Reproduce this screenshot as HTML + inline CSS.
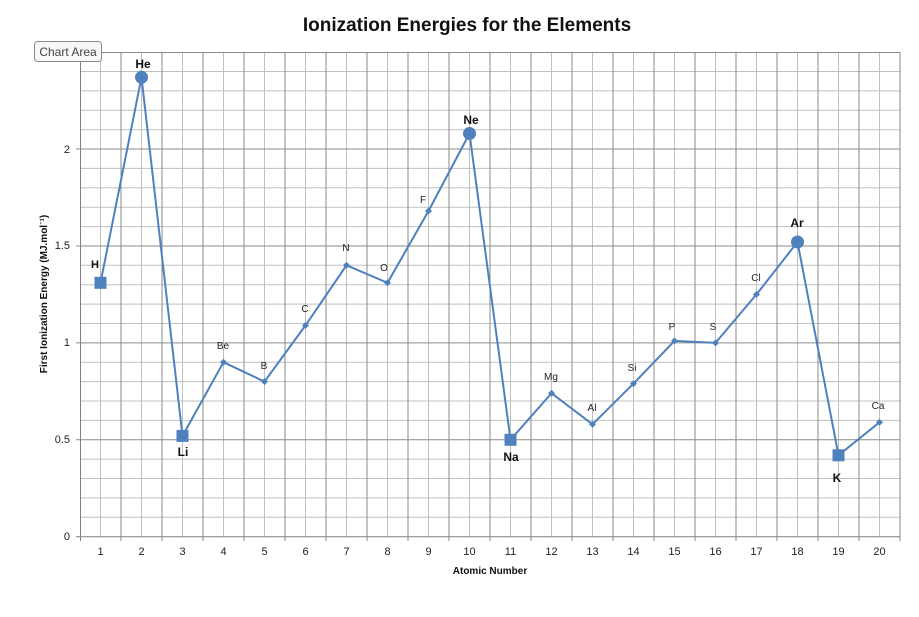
<!DOCTYPE html>
<html><head><meta charset="utf-8"><style>body{margin:0;background:#fff}svg{display:block;font-family:"Liberation Sans",Calibri,sans-serif}</style></head><body>
<svg width="919" height="617" viewBox="0 0 919 617" xmlns="http://www.w3.org/2000/svg">
<rect width="919" height="617" fill="#fff"/>
<text x="467" y="31" font-size="19" font-weight="bold" text-anchor="middle" fill="#111">Ionization Energies for the Elements</text>
<g stroke="#c0c0c0" stroke-width="1">
<path d="M100.5 52V537M141.5 52V537M182.5 52V537M223.5 52V537M264.5 52V537M305.5 52V537M346.5 52V537M387.5 52V537M428.5 52V537M469.5 52V537M510.5 52V537M551.5 52V537M592.5 52V537M633.5 52V537M674.5 52V537M715.5 52V537M756.5 52V537M797.5 52V537M838.5 52V537M879.5 52V537"/>
<path d="M80 517.3H900M80 497.9H900M80 478.5H900M80 459.1H900M80 420.4H900M80 401H900M80 381.6H900M80 362.2H900M80 323.5H900M80 304.1H900M80 284.7H900M80 265.3H900M80 226.6H900M80 207.2H900M80 187.8H900M80 168.4H900M80 129.7H900M80 110.3H900M80 90.9H900M80 71.5H900"/>
</g>
<g stroke="#8a8a8a" stroke-width="1">
<path d="M121 52V541M162 52V541M203 52V541M244 52V541M285 52V541M326 52V541M367 52V541M408 52V541M449 52V541M490 52V541M531 52V541M572 52V541M613 52V541M654 52V541M695 52V541M736 52V541M777 52V541M818 52V541M859 52V541M900 52V541"/>
<path d="M76 439.8H900M76 342.9H900M76 246H900M76 149H900M80 52.5H900"/>
</g>
<path d="M80.5 52V541M76 536.7H900" stroke="#808080" stroke-width="1"/>
<g font-size="11" fill="#222" text-anchor="end">
<text x="70" y="540">0</text><text x="70" y="443">0.5</text><text x="70" y="346">1</text><text x="70" y="249">1.5</text><text x="70" y="153">2</text>
</g>
<g font-size="11" fill="#222" text-anchor="middle">
<text x="100.5" y="555">1</text><text x="141.5" y="555">2</text><text x="182.5" y="555">3</text><text x="223.5" y="555">4</text><text x="264.5" y="555">5</text><text x="305.5" y="555">6</text><text x="346.5" y="555">7</text><text x="387.5" y="555">8</text><text x="428.5" y="555">9</text><text x="469.5" y="555">10</text><text x="510.5" y="555">11</text><text x="551.5" y="555">12</text><text x="592.5" y="555">13</text><text x="633.5" y="555">14</text><text x="674.5" y="555">15</text><text x="715.5" y="555">16</text><text x="756.5" y="555">17</text><text x="797.5" y="555">18</text><text x="838.5" y="555">19</text><text x="879.5" y="555">20</text>
</g>
<text x="490" y="574" font-size="10" font-weight="bold" text-anchor="middle" fill="#111">Atomic Number</text>
<text transform="translate(47,294) rotate(-90)" font-size="10" font-weight="bold" text-anchor="middle" fill="#111">First Ionization Energy (MJ.mol⁻¹)</text>
<polyline fill="none" stroke="#4f81bd" stroke-width="2" points="100.5,282.8 141.5,77.3 182.5,435.9 223.5,362.2 264.5,381.6 305.5,325.4 346.5,265.3 387.5,282.8 428.5,211 469.5,133.5 510.5,439.8 551.5,393.2 592.5,424.3 633.5,383.6 674.5,340.9 715.5,342.9 756.5,294.4 797.5,242 838.5,455.3 879.5,422.3"/>
<g fill="#4f81bd">
<rect x="94.5" y="276.8" width="12" height="12"/><rect x="176.5" y="429.9" width="12" height="12"/><rect x="504.5" y="433.8" width="12" height="12"/><rect x="832.5" y="449.3" width="12" height="12"/>
<circle cx="141.5" cy="77.3" r="6.5"/><circle cx="469.5" cy="133.5" r="6.5"/><circle cx="797.5" cy="242" r="6.5"/>
<g transform="rotate(45)">
</g>
<path d="M223.5 358.7l3.5 3.5-3.5 3.5-3.5-3.5zM264.5 378.1l3.5 3.5-3.5 3.5-3.5-3.5zM305.5 321.9l3.5 3.5-3.5 3.5-3.5-3.5zM346.5 261.8l3.5 3.5-3.5 3.5-3.5-3.5zM387.5 279.3l3.5 3.5-3.5 3.5-3.5-3.5zM428.5 207.5l3.5 3.5-3.5 3.5-3.5-3.5zM551.5 389.7l3.5 3.5-3.5 3.5-3.5-3.5zM592.5 420.8l3.5 3.5-3.5 3.5-3.5-3.5zM633.5 380.1l3.5 3.5-3.5 3.5-3.5-3.5zM674.5 337.4l3.5 3.5-3.5 3.5-3.5-3.5zM715.5 339.4l3.5 3.5-3.5 3.5-3.5-3.5zM756.5 290.9l3.5 3.5-3.5 3.5-3.5-3.5zM879.5 418.8l3.5 3.5-3.5 3.5-3.5-3.5z"/>
</g>
<g font-size="12" font-weight="bold" fill="#111" text-anchor="middle">
<text x="143" y="68">He</text><text x="471" y="124">Ne</text><text x="797" y="227">Ar</text><text x="95" y="268" font-size="11">H</text><text x="183" y="456">Li</text><text x="511" y="461">Na</text><text x="837" y="482">K</text>
</g>
<g font-size="10" fill="#222" text-anchor="middle">
<text x="223" y="349">Be</text><text x="264" y="369">B</text><text x="305" y="312">C</text><text x="346" y="251">N</text><text x="384" y="271">O</text><text x="423" y="203">F</text><text x="551" y="380">Mg</text><text x="592" y="411">Al</text><text x="632" y="371">Si</text><text x="672" y="330">P</text><text x="713" y="330">S</text><text x="756" y="281">Cl</text><text x="878" y="409">Ca</text>
</g>
<rect x="34.5" y="41.5" width="67" height="20" rx="3" fill="#f8f8f8" stroke="#8a8a8a"/>
<text x="68" y="56" font-size="12" text-anchor="middle" fill="#444">Chart Area</text>
</svg>
</body></html>
